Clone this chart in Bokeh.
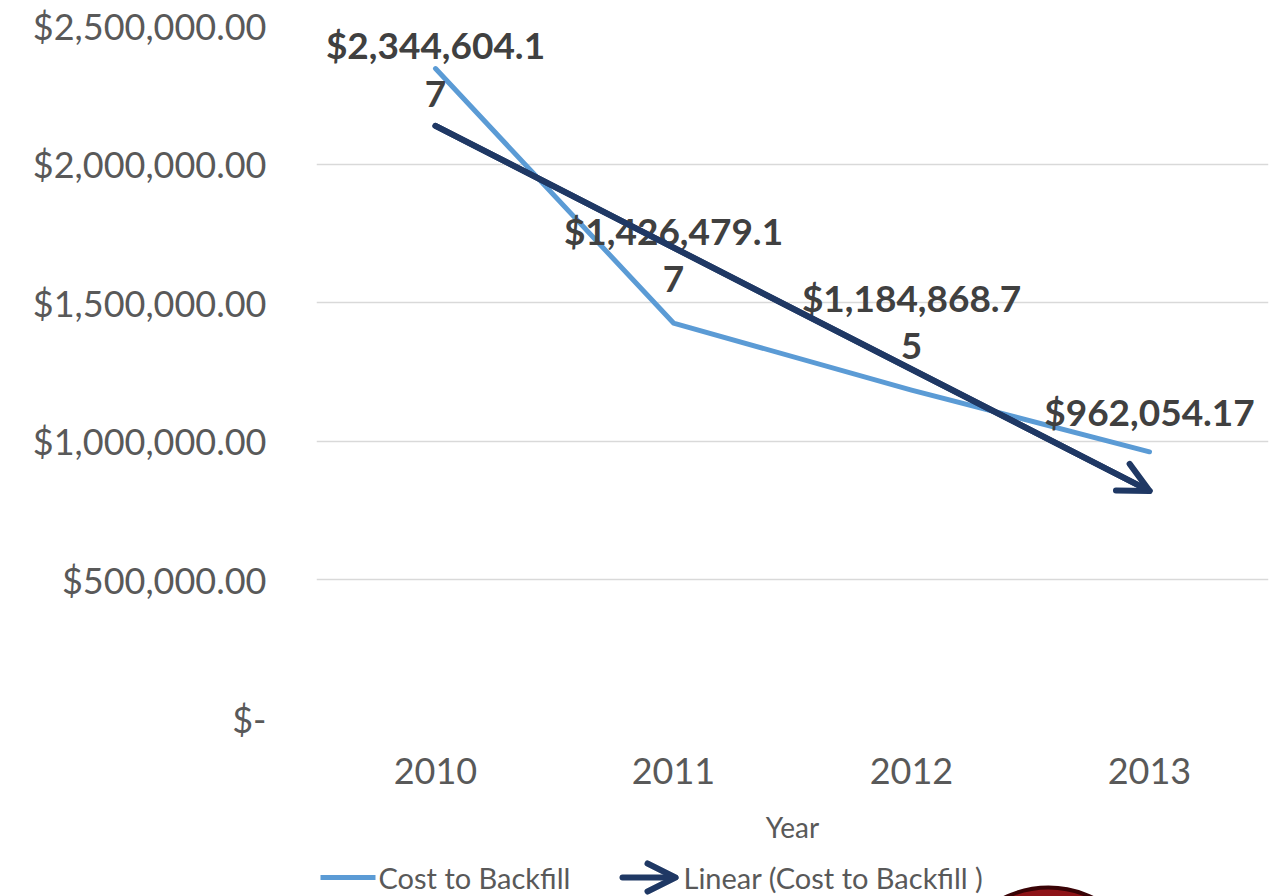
from bokeh.plotting import figure
from bokeh.layouts import column
from bokeh.models import (FixedTicker, Range1d, Arrow, OpenHead, ColumnDataSource)
from bokeh.embed import file_html
from bokeh.resources import INLINE
from bokeh.core.properties import value
import numpy as np

# ---------------- data ----------------
years = [2010, 2011, 2012, 2013]
year_labels = ["2010", "2011", "2012", "2013"]
cost_to_backfill = [2344604.17, 1426479.17, 1184868.75, 962054.17]
y_ticks = [0, 500000, 1000000, 1500000, 2000000, 2500000]
y_tick_labels = ["$-", "$500,000.00", "$1,000,000.00", "$1,500,000.00",
                 "$2,000,000.00", "$2,500,000.00"]
series_name = "Cost to Backfill"
trend_name = "Linear (Cost to Backfill )"
x_title = "Year"

# ---------------- style ----------------
BLUE = "#5B9BD5"
NAVY = "#1F3864"
TICK_COLOR = "#595959"
LABEL_COLOR = "#404040"
FONT = "Lato"
label_offsets = [-24, -93, -93, -40]   # screen px offset of the first label line
line_gap = 49                          # px between wrapped label lines
wrap_at = 12                           # characters per label line
BORDER_L, BORDER_R = 316, 13

# legend strip layout (page-pixel positions inside the strip)
LEG_W, LEG_H, LEG_Y = 1281, 46, 19
leg_swatch1 = (320, 375)
leg_text1_x = 378
leg_swatch2 = (622, 675)
leg_text2_x = 683

# linear trendline (least squares fit of the series)
coef = np.polyfit(years, cost_to_backfill, 1)
trend = list(np.polyval(coef, years))

# wrapped data labels
full = [f"${v:,.2f}" for v in cost_to_backfill]
line1 = [s[:wrap_at] for s in full]
line2 = [s[wrap_at:] for s in full]

p = figure(width=1281, height=850, output_backend="svg", toolbar_location=None,
           x_range=Range1d(2009.5, 2013.5), y_range=Range1d(0, 2500000),
           min_border_left=BORDER_L, min_border_right=BORDER_R, min_border_top=25,
           min_border_bottom=132)
p.outline_line_color = None
p.background_fill_color = "white"
p.border_fill_color = "white"
p.xgrid.visible = False
p.ygrid.grid_line_color = "#D9D9D9"
p.ygrid.grid_line_width = 1.5

p.yaxis.ticker = FixedTicker(ticks=y_ticks)
p.yaxis.major_label_overrides = dict(zip(y_ticks, y_tick_labels))
p.xaxis.ticker = FixedTicker(ticks=years)
p.xaxis.major_label_overrides = dict(zip(years, year_labels))
for ax in (p.xaxis[0], p.yaxis[0]):
    ax.axis_line_color = None
    ax.major_tick_line_color = None
    ax.minor_tick_line_color = None
    ax.major_label_text_font = FONT
    ax.major_label_text_font_size = "36px"
    ax.major_label_text_color = TICK_COLOR
p.yaxis.major_label_standoff = 44
p.xaxis.major_label_standoff = 33
p.xaxis.axis_label = x_title
p.xaxis.axis_label_text_font = FONT
p.xaxis.axis_label_text_font_size = "28px"
p.xaxis.axis_label_text_font_style = "normal"
p.xaxis.axis_label_text_color = TICK_COLOR
p.xaxis.axis_label_standoff = 23

p.line(years, cost_to_backfill, line_color=BLUE, line_width=5,
       line_cap="round", line_join="round")
p.line(years, trend, line_color=NAVY, line_width=6, line_cap="round")
p.add_layout(Arrow(end=OpenHead(size=30, line_color=NAVY, line_width=6,
                                line_cap="round", line_join="round"),
                   x_start=years[0], y_start=trend[0],
                   x_end=years[-1], y_end=trend[-1],
                   line_color=NAVY, line_width=6, line_cap="round"))

src = ColumnDataSource(dict(x=years, y=cost_to_backfill, t1=line1, t2=line2,
                            d1=label_offsets,
                            d2=[o + line_gap for o in label_offsets]))
common = dict(source=src, text_align="center", text_baseline="middle",
              text_font=value(FONT), text_font_style="bold",
              text_font_size="37px", text_color=LABEL_COLOR)
p.text(x="x", y="y", text="t1", y_offset="d1", **common)
p.text(x="x", y="y", text="t2", y_offset="d2", **common)

# ---------------- legend strip below the chart ----------------
# frame aligned with the chart frame, x range in page pixels
lg = figure(width=LEG_W, height=LEG_H, output_backend="svg", toolbar_location=None,
            x_range=Range1d(BORDER_L, LEG_W - BORDER_R), y_range=Range1d(0, LEG_H),
            min_border_left=BORDER_L, min_border_right=BORDER_R,
            min_border_top=0, min_border_bottom=0)
lg.axis.visible = False
lg.grid.visible = False
lg.outline_line_color = None
lg.border_fill_color = "white"
lg.background_fill_color = "white"
# partially visible emblem at the bottom edge of the slide
lg.circle(x=[1048], y=[-91], radius=100, fill_color="#8E1418",
          line_color="#3A0306", line_width=4)
lg.segment(x0=[leg_swatch1[0]], y0=[LEG_Y], x1=[leg_swatch1[1]], y1=[LEG_Y],
           line_color=BLUE, line_width=5)
lg.add_layout(Arrow(end=OpenHead(size=28, line_color=NAVY, line_width=6,
                                 line_cap="round", line_join="round"),
                    x_start=leg_swatch2[0], y_start=LEG_Y,
                    x_end=leg_swatch2[1], y_end=LEG_Y,
                    line_color=NAVY, line_width=6, line_cap="round"))
lg.text(x=[leg_text1_x, leg_text2_x], y=[LEG_Y, LEG_Y],
        text=[series_name, trend_name], text_align="left", text_baseline="middle",
        text_font=value(FONT), text_font_size="29px", text_color=TICK_COLOR)

page = column(p, lg, spacing=0)
open("out.html", "w").write(file_html(page, INLINE))
